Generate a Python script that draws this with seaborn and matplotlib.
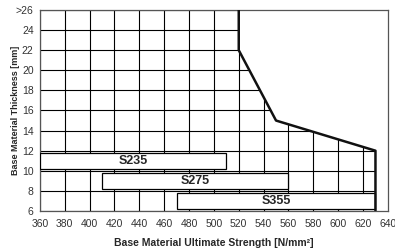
import seaborn as sns
import pandas as pd
from matplotlib import pyplot as plt
from matplotlib.patches import Polygon

# steel grades: strength range and thickness band
grades = ["S235", "S275", "S355"]
strength_min = [360, 410, 470]
strength_max = [510, 560, 630]
thickness_mid = [11, 9, 7]

# limit curve
limit_strength = [520, 520, 550, 630, 630]
limit_thickness = [26, 22, 15, 12, 6]

x_ticks = list(range(360, 641, 20))
y_ticks = list(range(6, 27, 2))
y_ticklabels = [str(v) for v in y_ticks[:-1]] + [">26"]

sns.set_style("white")
plt.rcParams['font.family'] = ['Liberation Sans', 'DejaVu Sans']

fig = plt.figure(figsize=(3.95, 2.5), dpi=100)
ax = fig.add_axes([0.101, 0.156, 0.881, 0.804])

ax.set_xlim(360, 640)
ax.set_ylim(6, 26)
ax.set_xticks(x_ticks)
ax.set_yticks(y_ticks)
ax.set_yticklabels(y_ticklabels)
ax.tick_params(labelsize=7.5, length=2.5, width=0.8, pad=2, colors='#333333')
ax.tick_params(axis='x', pad=3)

# grid only inside the allowed region
ax.grid(True, color='black', linewidth=0.8)
ax.set_axisbelow(True)
region = Polygon(list(zip([360, 360] + limit_strength, [6, 26] + limit_thickness)),
                 closed=True, transform=ax.transData, facecolor='none', edgecolor='none')
ax.add_patch(region)
for line in ax.get_xgridlines() + ax.get_ygridlines():
    line.set_clip_path(region)

df = pd.DataFrame({"strength": limit_strength, "thickness": limit_thickness})
sns.lineplot(data=df, x="strength", y="thickness", sort=False, estimator=None,
             color='#111111', linewidth=1.8, ax=ax, zorder=4)

widths = [b - a for a, b in zip(strength_min, strength_max)]
ax.barh(thickness_mid, widths, left=strength_min, height=1.6, color='white',
        edgecolor='black', linewidth=0.9, zorder=3)
for g, a, b, y in zip(grades, strength_min, strength_max, thickness_mid):
    ax.text((a + b) / 2, y, g, ha='center', va='center', fontsize=9,
            fontweight='bold', zorder=5)

ax.set_xlim(360, 640)
ax.set_ylim(6, 26)
for s in ax.spines.values():
    s.set_color('#555555')
    s.set_linewidth(0.9)

ax.set_xlabel("Base Material Ultimate Strength [N/mm²]", fontsize=7.5, fontweight='bold', labelpad=7)
ax.set_ylabel("Base Material Thickness [mm]", fontsize=6.5, fontweight='bold')
ax.yaxis.set_label_coords(-0.056, 0.5)

fig.savefig("out.png", dpi=100)
